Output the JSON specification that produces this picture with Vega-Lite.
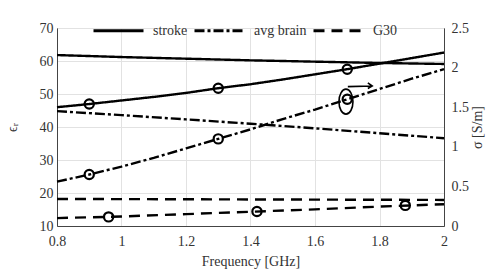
{
  "$schema": "https://vega.github.io/schema/vega-lite/v6.json",
  "width": 387,
  "height": 198,
  "autosize": "none",
  "padding": {"left": 57, "top": 28, "right": 52, "bottom": 47},
  "background": "white",
  "config": {
    "font": "Liberation Serif, Times New Roman, DejaVu Serif, serif",
    "view": {"stroke": "#444", "strokeWidth": 1},
    "axis": {
      "labelFont": "Liberation Serif, Times New Roman, DejaVu Serif, serif",
      "titleFont": "Liberation Serif, Times New Roman, DejaVu Serif, serif",
      "labelFontSize": 14,
      "titleFontSize": 14,
      "titleFontWeight": "normal",
      "labelColor": "#333",
      "titleColor": "#333",
      "domainColor": "#444",
      "gridColor": "#e2e2e2",
      "ticks": false,
      "labelFlush": false
    },
    "legend": {
      "labelFont": "Liberation Serif, Times New Roman, DejaVu Serif, serif",
      "labelFontSize": 14,
      "labelColor": "#333"
    }
  },
  "datasets": {
    "lines": [
      {"f": 0.8, "mat": "stroke", "q": "eps", "v": 61.8},
      {"f": 1.0, "mat": "stroke", "q": "eps", "v": 61.2},
      {"f": 1.2, "mat": "stroke", "q": "eps", "v": 60.7},
      {"f": 1.4, "mat": "stroke", "q": "eps", "v": 60.2},
      {"f": 1.6, "mat": "stroke", "q": "eps", "v": 59.8},
      {"f": 1.8, "mat": "stroke", "q": "eps", "v": 59.4},
      {"f": 2.0, "mat": "stroke", "q": "eps", "v": 59.1},
      {"f": 0.8, "mat": "avg brain", "q": "eps", "v": 44.8},
      {"f": 1.0, "mat": "avg brain", "q": "eps", "v": 43.6},
      {"f": 1.2, "mat": "avg brain", "q": "eps", "v": 42.3},
      {"f": 1.4, "mat": "avg brain", "q": "eps", "v": 41.0},
      {"f": 1.6, "mat": "avg brain", "q": "eps", "v": 39.6},
      {"f": 1.8, "mat": "avg brain", "q": "eps", "v": 38.1},
      {"f": 2.0, "mat": "avg brain", "q": "eps", "v": 36.6},
      {"f": 0.8, "mat": "G30", "q": "eps", "v": 18.2},
      {"f": 1.4, "mat": "G30", "q": "eps", "v": 18.05},
      {"f": 2.0, "mat": "G30", "q": "eps", "v": 17.9},
      {"f": 0.8, "mat": "stroke", "q": "sig", "v": 1.5},
      {"f": 0.9, "mat": "stroke", "q": "sig", "v": 1.54},
      {"f": 1.0, "mat": "stroke", "q": "sig", "v": 1.585},
      {"f": 1.1, "mat": "stroke", "q": "sig", "v": 1.63},
      {"f": 1.2, "mat": "stroke", "q": "sig", "v": 1.68},
      {"f": 1.3, "mat": "stroke", "q": "sig", "v": 1.74},
      {"f": 1.4, "mat": "stroke", "q": "sig", "v": 1.79},
      {"f": 1.5, "mat": "stroke", "q": "sig", "v": 1.85},
      {"f": 1.6, "mat": "stroke", "q": "sig", "v": 1.915},
      {"f": 1.7, "mat": "stroke", "q": "sig", "v": 1.98},
      {"f": 1.8, "mat": "stroke", "q": "sig", "v": 2.05},
      {"f": 1.9, "mat": "stroke", "q": "sig", "v": 2.12},
      {"f": 2.0, "mat": "stroke", "q": "sig", "v": 2.19},
      {"f": 0.8, "mat": "avg brain", "q": "sig", "v": 0.56},
      {"f": 0.9, "mat": "avg brain", "q": "sig", "v": 0.65},
      {"f": 1.0, "mat": "avg brain", "q": "sig", "v": 0.75},
      {"f": 1.1, "mat": "avg brain", "q": "sig", "v": 0.86},
      {"f": 1.2, "mat": "avg brain", "q": "sig", "v": 0.98},
      {"f": 1.3, "mat": "avg brain", "q": "sig", "v": 1.1},
      {"f": 1.4, "mat": "avg brain", "q": "sig", "v": 1.22},
      {"f": 1.5, "mat": "avg brain", "q": "sig", "v": 1.35},
      {"f": 1.6, "mat": "avg brain", "q": "sig", "v": 1.47},
      {"f": 1.7, "mat": "avg brain", "q": "sig", "v": 1.6},
      {"f": 1.8, "mat": "avg brain", "q": "sig", "v": 1.73},
      {"f": 1.9, "mat": "avg brain", "q": "sig", "v": 1.86},
      {"f": 2.0, "mat": "avg brain", "q": "sig", "v": 1.98},
      {"f": 0.8, "mat": "G30", "q": "sig", "v": 0.1},
      {"f": 1.0, "mat": "G30", "q": "sig", "v": 0.12},
      {"f": 1.2, "mat": "G30", "q": "sig", "v": 0.15},
      {"f": 1.4, "mat": "G30", "q": "sig", "v": 0.18},
      {"f": 1.6, "mat": "G30", "q": "sig", "v": 0.21},
      {"f": 1.8, "mat": "G30", "q": "sig", "v": 0.245},
      {"f": 2.0, "mat": "G30", "q": "sig", "v": 0.275}
    ],
    "circles": [
      {"f": 0.9, "mat": "stroke", "v": 1.54},
      {"f": 1.3, "mat": "stroke", "v": 1.74},
      {"f": 1.7, "mat": "stroke", "v": 1.98},
      {"f": 0.9, "mat": "avg brain", "v": 0.65},
      {"f": 1.3, "mat": "avg brain", "v": 1.1},
      {"f": 1.7, "mat": "avg brain", "v": 1.6},
      {"f": 0.96, "mat": "G30", "v": 0.115},
      {"f": 1.42, "mat": "G30", "v": 0.183},
      {"f": 1.88, "mat": "G30", "v": 0.26}
    ],
    "ann": [
      {"f": 1.696, "v": 1.57}
    ]
  },
  "layer": [
    {
      "data": {"name": "lines"},
      "transform": [{"filter": "datum.q == 'eps'"}],
      "mark": {"type": "line", "color": "black", "strokeWidth": 2.4},
      "encoding": {
        "x": {
          "field": "f", "type": "quantitative",
          "scale": {"domain": [0.8, 2.0]},
          "axis": {
            "title": "Frequency [GHz]",
            "values": [0.8, 1.0, 1.2, 1.4, 1.6, 1.8, 2.0],
            "labelExpr": "format(datum.value, '~g')",
            "labelPadding": 8,
            "titlePadding": 6,
            "grid": true
          }
        },
        "y": {
          "field": "v", "type": "quantitative",
          "scale": {"domain": [10, 70]},
          "axis": {
            "title": "ϵᵣ",
            "orient": "left",
            "values": [10, 20, 30, 40, 50, 60, 70],
            "labelPadding": 4,
            "titlePadding": 20,
            "grid": true
          }
        },
        "strokeDash": {
          "field": "mat", "type": "nominal",
          "scale": {"domain": ["stroke", "avg brain", "G30"], "range": [[1, 0], [10, 3, 3, 3], [11, 7]]},
          "legend": {
            "title": null,
            "orient": "none",
            "direction": "horizontal",
            "legendX": 35,
            "legendY": -24,
            "symbolType": "stroke",
            "symbolSize": 2500,
            "symbolStrokeWidth": 2.8,
            "symbolStrokeColor": "black",
            "labelOffset": 8,
            "columnPadding": 0
          }
        }
      }
    },
    {
      "encoding": {
        "x": {"field": "f", "type": "quantitative", "scale": {"domain": [0.8, 2.0]}},
        "y": {
          "field": "v", "type": "quantitative",
          "scale": {"domain": [0, 2.5]},
          "axis": {
            "title": "σ [S/m]",
            "orient": "right",
            "values": [0, 0.5, 1, 1.5, 2, 2.5],
            "labelExpr": "format(datum.value, '~g')",
            "labelPadding": 7,
            "titleAngle": 270,
            "titlePadding": 16,
            "grid": false
          }
        }
      },
      "layer": [
        {
          "data": {"name": "lines"},
          "transform": [{"filter": "datum.q == 'sig'"}],
          "mark": {"type": "line", "color": "black", "strokeWidth": 2.4},
          "encoding": {
            "strokeDash": {"field": "mat", "type": "nominal"}
          }
        },
        {
          "data": {"name": "circles"},
          "mark": {"type": "point", "shape": "circle", "filled": false, "color": "black", "strokeWidth": 2.2, "size": 85, "opacity": 1}
        },
        {
          "data": {"name": "ann"},
          "mark": {
            "type": "point",
            "filled": false,
            "color": "black",
            "strokeWidth": 1.6,
            "opacity": 1,
            "size": 625,
            "shape": "M -0.56 0 A 0.56 1 0 1 0 0.56 0 A 0.56 1 0 1 0 -0.56 0 M 0.15 -1.2 L 2.1 -1.25 M 1.75 -1.5 L 2.1 -1.25 L 1.75 -1.05"
          }
        }
      ]
    }
  ],
  "resolve": {"scale": {"y": "independent"}}
}
